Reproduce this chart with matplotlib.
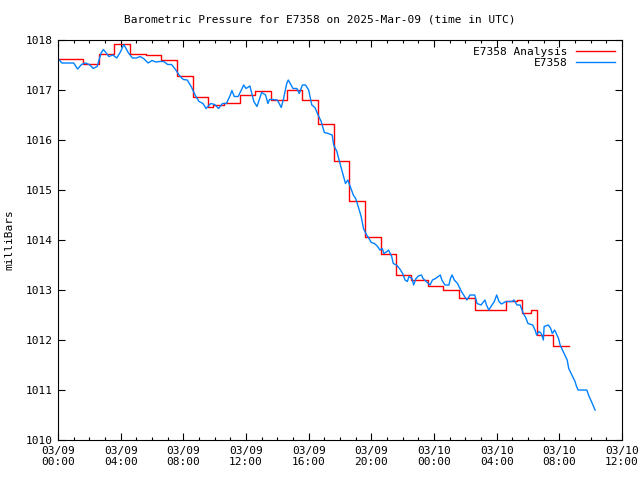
import numpy as np
import matplotlib
matplotlib.use('Agg')
import matplotlib.pyplot as plt
from matplotlib.ticker import MultipleLocator

# hours since 2025-03-09 00:00 UTC
analysis_t = [0, 0.6, 1.6, 2.6, 3.6, 4.6, 5.6, 6.6, 7.6, 8.6, 9.6, 9.9, 10.6,
              11.6, 12.6, 13.6, 14.6, 15.6, 16.6, 17.6, 18.6, 19.6, 20.6,
              21.6, 22.5, 23.6, 24.6, 25.6, 26.6, 28.6, 29.3, 29.6, 30.17,
              30.6, 31.6, 32.6]
analysis_p = [1017.62, 1017.63, 1017.53, 1017.73, 1017.92, 1017.72, 1017.70,
              1017.60, 1017.29, 1016.87, 1016.67, 1016.71, 1016.75, 1016.90,
              1016.98, 1016.81, 1017.01, 1016.81, 1016.32, 1015.58, 1014.78,
              1014.07, 1013.73, 1013.30, 1013.21, 1013.08, 1013.00, 1012.85,
              1012.61, 1012.78, 1012.81, 1012.55, 1012.60, 1012.10, 1011.88,
              1011.88]

obs_t = [0, 0.25, 0.5, 0.75, 1.0, 1.25, 1.5, 1.75, 2.0, 2.25, 2.5, 2.75, 2.9,
         3.0, 3.25, 3.5, 3.75, 4.0, 4.2, 4.5, 4.75, 5.0, 5.25, 5.5, 5.75, 6.0,
         6.25, 6.5, 6.75, 7.0, 7.25, 7.5, 7.75, 8.0, 8.25, 8.5, 8.75, 9.0,
         9.25, 9.45, 9.75, 10.0, 10.25, 10.5, 10.75, 11.0, 11.1, 11.25, 11.5,
         11.75, 11.85, 12.0, 12.25, 12.5, 12.7, 12.85, 13.0, 13.25, 13.4,
         13.5, 13.75, 14.0, 14.25, 14.4, 14.6, 14.7, 15.0, 15.25, 15.4, 15.6,
         15.8, 16.0, 16.2, 16.4, 16.6, 16.8, 17.0, 17.25, 17.5, 17.6, 17.8,
         18.0, 18.2, 18.35, 18.5, 18.65, 18.85, 19.0, 19.2, 19.35, 19.5,
         19.7, 19.85, 20.0, 20.2, 20.4, 20.55, 20.7, 20.8, 21.0, 21.1, 21.3,
         21.4, 21.6, 21.8, 22.0, 22.15, 22.3, 22.4, 22.6, 22.7, 22.85, 23.0,
         23.2, 23.3, 23.5, 23.75, 23.9, 24.1, 24.4, 24.5, 24.7, 24.95, 25.05,
         25.15, 25.3, 25.5, 25.75, 25.95, 26.1, 26.3, 26.6, 26.75, 27.0,
         27.25, 27.35, 27.5, 27.7, 27.85, 28.0, 28.15, 28.3, 28.6, 29.0,
         29.1, 29.3, 29.5, 29.7, 29.85, 30.0, 30.3, 30.45, 30.55, 30.7,
         30.85, 30.98, 31.03, 31.3, 31.45, 31.55, 31.7, 31.85, 31.95, 32.05,
         32.2, 32.35, 32.5, 32.6, 32.8, 33.0, 33.1, 33.2, 33.75, 33.9, 34.05,
         34.28]
obs_p = [1017.63, 1017.54, 1017.54, 1017.54, 1017.54, 1017.42, 1017.51,
         1017.54, 1017.51, 1017.43, 1017.47, 1017.74, 1017.81, 1017.77,
         1017.67, 1017.70, 1017.64, 1017.77, 1017.91, 1017.74, 1017.64,
         1017.64, 1017.67, 1017.62, 1017.54, 1017.59, 1017.56, 1017.57,
         1017.57, 1017.51, 1017.51, 1017.41, 1017.29, 1017.21, 1017.20,
         1017.07, 1016.90, 1016.77, 1016.73, 1016.63, 1016.73, 1016.71,
         1016.63, 1016.73, 1016.73, 1016.90, 1016.99, 1016.87, 1016.87,
         1017.03, 1017.10, 1017.03, 1017.08, 1016.77, 1016.67, 1016.81,
         1016.95, 1016.90, 1016.73, 1016.81, 1016.81, 1016.80, 1016.65,
         1016.83, 1017.13, 1017.20, 1017.03, 1017.03, 1016.93, 1017.10,
         1017.10, 1017.00, 1016.70, 1016.65, 1016.50, 1016.37, 1016.15,
         1016.13, 1016.10, 1015.90, 1015.77, 1015.53, 1015.30, 1015.13,
         1015.20, 1015.07, 1014.90, 1014.83, 1014.63, 1014.47, 1014.23,
         1014.10, 1014.03, 1013.95, 1013.93, 1013.87, 1013.80, 1013.83,
         1013.73, 1013.77, 1013.80, 1013.67, 1013.53, 1013.50, 1013.43,
         1013.33, 1013.20, 1013.17, 1013.27, 1013.23, 1013.10, 1013.23,
         1013.28, 1013.30, 1013.23, 1013.17, 1013.10, 1013.20, 1013.23,
         1013.30, 1013.20, 1013.10, 1013.10, 1013.23, 1013.30, 1013.20,
         1013.13, 1012.97, 1012.87, 1012.80, 1012.90, 1012.90, 1012.73,
         1012.70, 1012.80, 1012.70, 1012.60, 1012.70, 1012.77, 1012.90,
         1012.77, 1012.72, 1012.77, 1012.77, 1012.80, 1012.70, 1012.70,
         1012.53, 1012.45, 1012.33, 1012.30, 1012.20, 1012.10, 1012.17,
         1012.13, 1012.00, 1012.27, 1012.30, 1012.23, 1012.13, 1012.20,
         1012.10, 1012.03, 1011.90, 1011.80, 1011.70, 1011.60, 1011.43,
         1011.30, 1011.17, 1011.07, 1011.00, 1011.00, 1010.87, 1010.77,
         1010.60]

xtick_pos = [0, 4, 8, 12, 16, 20, 24, 28, 32, 36]
xtick_labels = ['03/09\n00:00', '03/09\n04:00', '03/09\n08:00', '03/09\n12:00',
                '03/09\n16:00', '03/09\n20:00', '03/10\n00:00', '03/10\n04:00',
                '03/10\n08:00', '03/10\n12:00']

plt.rcParams['font.family'] = 'DejaVu Sans Mono'
plt.rcParams['font.size'] = 8

fig = plt.figure(figsize=(6.4, 4.8), dpi=100)
ax = fig.add_axes([58/640, 40/480, 564/640, 400/480])

ax.plot(analysis_t, analysis_p, drawstyle='steps-post', color='#ff0000',
        lw=1.0, label='E7358 Analysis')
ax.plot(obs_t, obs_p, color='#0080ff', lw=1.0, label='E7358')

ax.set_xlim(0, 36)
ax.set_ylim(1010, 1018)
ax.set_xticks(xtick_pos)
ax.set_xticklabels(xtick_labels)
ax.xaxis.set_minor_locator(MultipleLocator(1))
ax.set_yticks(range(1010, 1019))
ax.tick_params(which='both', direction='in', top=True, right=True, width=0.8)
ax.tick_params(which='major', length=5, pad=4)
ax.tick_params(which='minor', length=2.5)
for s in ax.spines.values():
    s.set_linewidth(0.8)

ax.set_ylabel('milliBars', labelpad=8)
fig.text(0.5, 1 - 19/480, 'Barometric Pressure for E7358 on 2025-Mar-09 (time in UTC)',
         ha='center', va='center')

ax.legend(loc='upper right', frameon=False, markerfirst=False,
          handlelength=3.5, borderaxespad=0.2, labelspacing=0.1)

fig.savefig('out.png', dpi=100)
